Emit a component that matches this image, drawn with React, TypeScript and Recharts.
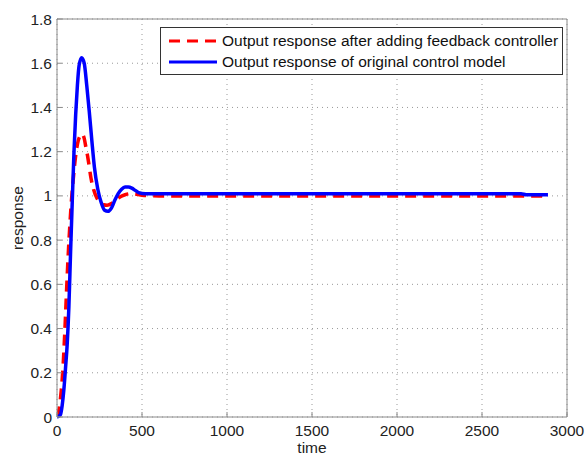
import { LineChart, Line, XAxis, YAxis, CartesianGrid } from "recharts";

// time samples (s) and response
const feedbackTime = [0, 5, 15, 25, 35, 45, 55, 65, 75, 85, 95, 105, 115, 125, 135, 147, 160, 170, 180, 190, 200, 215, 235, 255, 275, 295, 320, 345, 370, 400, 430, 460, 500, 600, 1000, 2000, 2888];
const feedbackResp = [0, 0.01, 0.05, 0.12, 0.22, 0.37, 0.55, 0.72, 0.86, 0.98, 1.07, 1.15, 1.21, 1.25, 1.27, 1.28, 1.26, 1.22, 1.18, 1.13, 1.08, 1.03, 0.99, 0.97, 0.96, 0.958, 0.965, 0.98, 0.995, 1.005, 1.01, 1.008, 1.003, 1.0, 1.0, 1.0, 1.0];

const originalTime = [0, 20, 30, 40, 50, 60, 70, 80, 90, 100, 110, 120, 130, 145, 160, 175, 190, 205, 220, 240, 260, 280, 300, 320, 340, 360, 380, 400, 420, 440, 460, 480, 520, 600, 1000, 2000, 2730, 2760, 2888];
const originalResp = [0, 0.01, 0.05, 0.12, 0.22, 0.33, 0.5, 0.75, 0.98, 1.2, 1.37, 1.5, 1.59, 1.625, 1.6, 1.5, 1.38, 1.25, 1.13, 1.03, 0.97, 0.935, 0.93, 0.945, 0.98, 1.01, 1.03, 1.04, 1.04, 1.035, 1.025, 1.015, 1.01, 1.01, 1.01, 1.01, 1.01, 1.005, 1.005];

const seriesNames = [
  "Output response after adding feedback controller",
  "Output response of original control model",
];

const xTicks = [0, 500, 1000, 1500, 2000, 2500, 3000];
const yTicks = [0, 0.2, 0.4, 0.6, 0.8, 1, 1.2, 1.4, 1.6, 1.8];

const feedbackData = feedbackTime.map((t, i) => ({ t, v: feedbackResp[i] }));
const originalData = originalTime.map((t, i) => ({ t, v: originalResp[i] }));

const FONT = "'Liberation Sans', Arial, sans-serif";
const AXIS = "#8a8a8a";
const TICK = { fontSize: 15.5, fill: "#222", fontFamily: FONT };

// matlab-style legend box sitting inside the axes, top right
const LegendBox = () => (
  <div
    style={{
      position: "absolute",
      left: 160,
      top: 27,
      width: 403,
      height: 48,
      border: "1px solid #333",
      background: "#fff",
      boxSizing: "border-box",
      fontFamily: FONT,
      fontSize: 15.5,
      color: "#111",
      padding: "2px 0 0 8px",
      whiteSpace: "nowrap",
    }}
  >
    <div style={{ display: "flex", alignItems: "center", height: 21 }}>
      <svg width={48} height={6} style={{ marginRight: 5, flex: "none" }}>
        <line x1={0} y1={3} x2={48} y2={3} stroke="#ff0000" strokeWidth={3} strokeDasharray="11 7" />
      </svg>
      {seriesNames[0]}
    </div>
    <div style={{ display: "flex", alignItems: "center", height: 21 }}>
      <svg width={48} height={6} style={{ marginRight: 5, flex: "none" }}>
        <line x1={0} y1={3} x2={48} y2={3} stroke="#0000ff" strokeWidth={3} />
      </svg>
      {seriesNames[1]}
    </div>
  </div>
);

export default function App() {
  return (
    <div style={{ position: "absolute", left: 0, top: 0, width: 585, height: 455, background: "#fff" }}>
      <LineChart width={585} height={455} margin={{ top: 18, right: 17, bottom: 0, left: 0 }}>
        <CartesianGrid xAxisId="b" yAxisId="l" stroke="#999" strokeDasharray="1 4" />
        <XAxis
          xAxisId="b"
          dataKey="t"
          type="number"
          domain={[0, 3000]}
          ticks={xTicks}
          allowDataOverflow
          height={38}
          stroke={AXIS}
          tickSize={-5}
          tickMargin={13}
          tick={TICK}
          label={{ value: "time", position: "insideBottom", offset: 2, style: { fontSize: 15.5, fill: "#222", fontFamily: FONT } }}
        />
        <XAxis
          xAxisId="top"
          orientation="top"
          dataKey="t"
          type="number"
          domain={[0, 3000]}
          ticks={xTicks}
          height={1}
          stroke={AXIS}
          tickSize={-5}
          tickFormatter={() => ""}
        />
        <YAxis
          yAxisId="l"
          type="number"
          domain={[0, 1.8]}
          ticks={yTicks}
          width={57}
          stroke={AXIS}
          tickSize={-5}
          tickMargin={10}
          tick={TICK}
          label={{
            value: "response",
            angle: -90,
            position: "insideLeft",
            offset: 17,
            textAnchor: "middle",
            style: { fontSize: 15.5, fill: "#222", fontFamily: FONT, textAnchor: "middle" },
          }}
        />
        <YAxis
          yAxisId="r"
          orientation="right"
          type="number"
          domain={[0, 1.8]}
          ticks={yTicks}
          width={1}
          stroke={AXIS}
          tickSize={-5}
          tickFormatter={() => ""}
        />
        <Line
          xAxisId="b"
          yAxisId="l"
          data={feedbackData}
          dataKey="v"
          type="monotone"
          stroke="#ff0000"
          strokeWidth={3.5}
          strokeDasharray="11 7"
          dot={false}
          isAnimationActive={false}
          name={seriesNames[0]}
        />
        <Line
          xAxisId="b"
          yAxisId="l"
          data={originalData}
          dataKey="v"
          type="monotone"
          stroke="#0000ff"
          strokeWidth={3.5}
          dot={false}
          isAnimationActive={false}
          name={seriesNames[1]}
        />
      </LineChart>
      <LegendBox />
    </div>
  );
}
